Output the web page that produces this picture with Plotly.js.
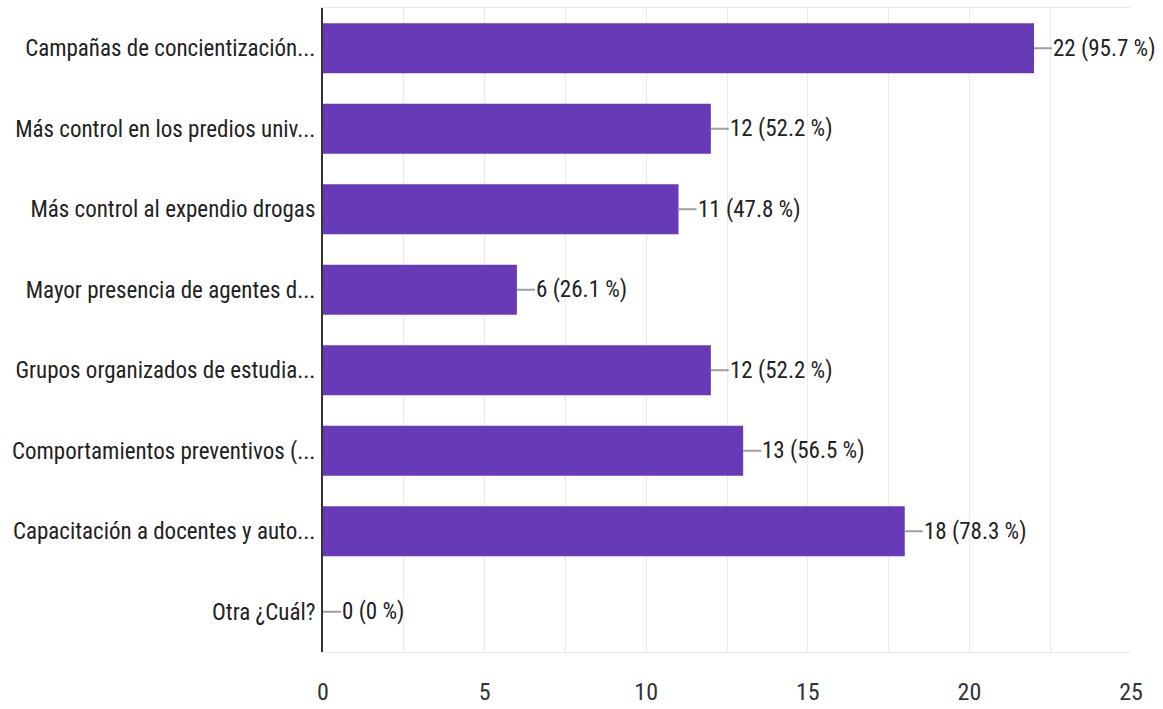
<!DOCTYPE html>
<html>
<head>
<meta charset="utf-8">
<script src="https://cdn.plot.ly/plotly-3.0.1.min.js"></script>
<style>html,body{margin:0;padding:0;background:#fff;}#chart{width:1163px;height:709px;}</style>
</head>
<body>
<div id="chart"></div>
<script>
const categories = [
  "Campañas de concientización...",
  "Más control en los predios univ...",
  "Más control al expendio drogas",
  "Mayor presencia de agentes d...",
  "Grupos organizados de estudia...",
  "Comportamientos preventivos (...",
  "Capacitación a docentes y auto...",
  "Otra ¿Cuál?"
];
const counts = [22, 12, 11, 6, 12, 13, 18, 0];
const percents = ["95.7", "52.2", "47.8", "26.1", "52.2", "56.5", "78.3", "0"];
const tickVals = [0, 5, 10, 15, 20, 25];

const FONT = "'Liberation Sans Narrow', 'Roboto Condensed', Roboto, Arial, sans-serif";

const annotations = categories.map((c, i) => ({
  x: counts[i], y: c, xref: 'x', yref: 'y',
  text: counts[i] + ' (' + percents[i] + ' %)',
  showarrow: true, arrowhead: 0, arrowwidth: 2, arrowcolor: '#9e9e9e',
  ax: 18, ay: 0, xanchor: 'left', borderpad: 0, standoff: 0, startstandoff: 0,
  font: {family: FONT, size: 23, color: '#222'}
}));

const trace = {
  type: 'bar', orientation: 'h',
  x: counts, y: categories,
  marker: {color: '#673ab7', line: {width: 0}},
  hoverinfo: 'none'
};

const layout = {
  width: 1163, height: 709,
  margin: {l: 323, r: 32, t: 8, b: 57},
  paper_bgcolor: '#fff', plot_bgcolor: '#fff',
  bargap: 0.38,
  showlegend: false,
  font: {family: FONT, size: 23, color: '#222'},
  xaxis: {
    range: [0, 25], tickvals: tickVals, ticktext: tickVals.map(String),
    showgrid: true, gridcolor: '#ebebeb', gridwidth: 1,
    zeroline: false, showline: true, mirror: true, linecolor: '#ebebeb', linewidth: 1,
    ticks: '', ticklabelstandoff: 18,
    tickfont: {family: FONT, size: 24, color: '#333'},
    minor: {tickvals: [2.5, 7.5, 12.5, 17.5, 22.5], showgrid: true, gridcolor: '#ebebeb', gridwidth: 1}
  },
  yaxis: {
    autorange: 'reversed', showgrid: false, zeroline: false,
    showline: true, linecolor: '#333', linewidth: 2,
    ticks: '', ticklabelstandoff: 1,
    tickfont: {family: FONT, size: 23, color: '#222'}
  },
  annotations: annotations
};

Plotly.newPlot('chart', [trace], layout, {staticPlot: true, displayModeBar: false});
</script>
</body>
</html>
